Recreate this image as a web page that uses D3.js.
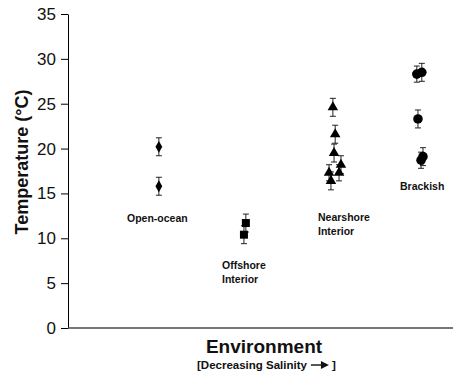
<!DOCTYPE html>
<html>
<head>
<meta charset="utf-8">
<script src="https://cdn.jsdelivr.net/npm/d3@7"></script>
<style>
  html, body { margin: 0; padding: 0; background: #fff; }
  svg { display: block; font-family: "Liberation Sans", Arial, Helvetica, sans-serif; }
</style>
</head>
<body>
<svg id="chart" width="455" height="376"></svg>
<script>
// Temperature by environment (position along a salinity gradient), with ±SE bars
const yTicks = [0, 5, 10, 15, 20, 25, 30, 35];

const openOceanX   = [23.6, 23.6];
const openOceanT   = [20.2, 15.8];
const openOceanErr = [1.0, 1.0];

const offshoreX   = [46.2, 45.7];
const offshoreT   = [11.7, 10.4];
const offshoreErr = [1.0, 1.0];

const nearshoreX   = [68.8, 69.4, 69.1, 70.9, 70.4, 67.8, 68.3];
const nearshoreT   = [24.6, 21.6, 19.5, 18.2, 17.3, 17.3, 16.4];
const nearshoreErr = [1.0, 1.0, 1.0, 1.0, 0.9, 0.9, 1.0];

const brackishX   = [90.6, 91.9, 90.9, 92.2, 91.7];
const brackishT   = [28.3, 28.5, 23.3, 19.1, 18.7];
const brackishErr = [0.9, 1.0, 1.0, 1.0, 0.9];

const groups = [
  { name: "Open-ocean", xs: openOceanX, ts: openOceanT, es: openOceanErr, symbol: d3.symbolDiamond, size: 40 },
  { name: "Offshore Interior", xs: offshoreX, ts: offshoreT, es: offshoreErr, symbol: d3.symbolSquare, size: 64 },
  { name: "Nearshore Interior", xs: nearshoreX, ts: nearshoreT, es: nearshoreErr, symbol: d3.symbolTriangle, size: 48 },
  { name: "Brackish", xs: brackishX, ts: brackishT, es: brackishErr, symbol: d3.symbolCircle, size: 72 }
];

const svg = d3.select("#chart");
const plotLeft = 68, plotRight = 453, plotTop = 14, plotBottom = 328;

const x = d3.scaleLinear().domain([0, 100]).range([plotLeft, plotRight]);
const y = d3.scaleLinear().domain([0, 35]).range([plotBottom, plotTop]);

// y axis
const yAxis = svg.append("g")
  .attr("transform", `translate(${plotLeft},0)`)
  .call(d3.axisLeft(y).tickValues(yTicks).tickSize(7).tickPadding(5).tickSizeOuter(0));
yAxis.select(".domain").attr("stroke", "#000").attr("stroke-width", 1);
yAxis.selectAll(".tick line").attr("stroke", "#000");
yAxis.selectAll(".tick text").attr("font-size", 17).attr("fill", "#111")
  .attr("font-family", "'Liberation Sans', Arial, sans-serif");

// x axis baseline (no ticks)
svg.append("line")
  .attr("x1", x(0)).attr("x2", x(100))
  .attr("y1", y(0)).attr("y2", y(0))
  .attr("stroke", "#4a4a4a").attr("stroke-width", 1.6);

// error bars and markers
groups.forEach(g => {
  const pts = g.xs.map((xv, i) => ({ x: xv, t: g.ts[i], e: g.es[i] }));
  const eg = svg.append("g").attr("stroke", "#222").attr("stroke-width", 1);
  pts.forEach(p => {
    const cx = x(p.x);
    eg.append("line").attr("x1", cx).attr("x2", cx).attr("y1", y(p.t + p.e)).attr("y2", y(p.t - p.e));
    eg.append("line").attr("x1", cx - 3).attr("x2", cx + 3).attr("y1", y(p.t + p.e)).attr("y2", y(p.t + p.e));
    eg.append("line").attr("x1", cx - 3).attr("x2", cx + 3).attr("y1", y(p.t - p.e)).attr("y2", y(p.t - p.e));
  });
  svg.append("g").selectAll("path").data(pts).join("path")
    .attr("transform", p => `translate(${x(p.x)},${y(p.t)})`)
    .attr("d", d3.symbol().type(g.symbol).size(g.size))
    .attr("fill", "#000");
});

// group labels
const labelFont = 10.5;
function label(lines, xPos, yPos) {
  const t = svg.append("text")
    .attr("font-size", labelFont).attr("font-weight", "bold").attr("fill", "#111");
  lines.forEach((s, i) => {
    t.append("tspan").attr("x", xPos).attr("y", yPos + i * 14).text(s);
  });
}
label(["Open-ocean"], 127, 222);
label(["Offshore", "Interior"], 222, 269);
label(["Nearshore", "Interior"], 318, 221);
label(["Brackish"], 400, 190);

// axis titles
svg.append("text")
  .attr("transform", "translate(28,162) rotate(-90)")
  .attr("text-anchor", "middle")
  .attr("font-size", 18).attr("font-weight", "bold").attr("fill", "#111")
  .text("Temperature (°C)");

svg.append("text")
  .attr("x", 264).attr("y", 353)
  .attr("text-anchor", "middle")
  .attr("font-size", 19).attr("font-weight", "bold").attr("fill", "#111")
  .text("Environment");

const sub = svg.append("text")
  .attr("x", 197).attr("y", 369)
  .attr("font-size", 11.5).attr("font-weight", "bold").attr("fill", "#111")
  .text("[Decreasing Salinity");
const subW = sub.node().getComputedTextLength();
const ax0 = 197 + subW + 4;
svg.append("line")
  .attr("x1", ax0).attr("x2", ax0 + 11).attr("y1", 365).attr("y2", 365)
  .attr("stroke", "#111").attr("stroke-width", 1.4);
svg.append("path")
  .attr("d", `M${ax0 + 10},361 L${ax0 + 18},365 L${ax0 + 10},369 Z`)
  .attr("fill", "#111");
svg.append("text")
  .attr("x", ax0 + 21).attr("y", 369)
  .attr("font-size", 11.5).attr("font-weight", "bold").attr("fill", "#111")
  .text("]");
</script>
</body>
</html>
